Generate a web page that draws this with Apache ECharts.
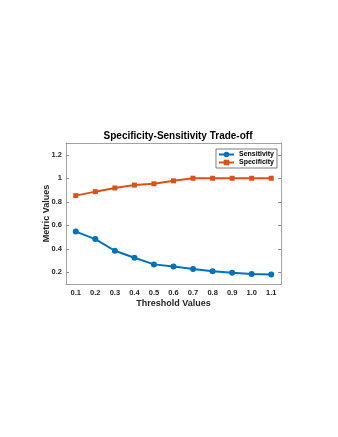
<!DOCTYPE html>
<html>
<head>
<meta charset="utf-8">
<script src="https://cdn.jsdelivr.net/npm/echarts@6/dist/echarts.min.js"></script>
<style>
  html, body { margin: 0; padding: 0; background: #fff; }
  #main { width: 338px; height: 437px; }
</style>
</head>
<body>
<div id="main"></div>
<script>
var thresholds = ['0.1', '0.2', '0.3', '0.4', '0.5', '0.6', '0.7', '0.8', '0.9', '1.0', '1.1'];
var sensitivity = [0.546, 0.482, 0.383, 0.323, 0.267, 0.248, 0.228, 0.209, 0.195, 0.186, 0.180];
var specificity = [0.852, 0.886, 0.917, 0.942, 0.953, 0.978, 1.0, 1.0, 1.0, 1.0, 1.0];
var yTicks = [0.2, 0.4, 0.6, 0.8, 1.0, 1.2];

var chartDom = document.getElementById('main');
var myChart = echarts.init(chartDom, null, { renderer: 'canvas' });
var font = 'Liberation Sans, Arial, sans-serif';
var axisCol = '#262626';
var lineCol = '#8c8c8c';

var option = {
  backgroundColor: '#fff',
  animation: false,
  title: {
    text: 'Specificity-Sensitivity Trade-off',
    left: 173, top: 126, textAlign: 'center',
    textStyle: { fontFamily: font, fontSize: 10, fontWeight: 'bold', color: '#000' }
  },
  legend: {
    right: 61, top: 149, orient: 'vertical',
    backgroundColor: '#fff', borderColor: '#262626', borderWidth: 0.6, borderRadius: 0,
    padding: [2, 3, 2, 2], itemGap: 1, itemWidth: 15, itemHeight: 7,
    textStyle: { fontFamily: font, fontSize: 7, color: '#000', fontWeight: 'bold' },
    data: ['Sensitivity', 'Specificity']
  },
  grid: { left: 66, right: 57, top: 143, bottom: 153, containLabel: false },
  xAxis: [{
    type: 'category', data: thresholds, boundaryGap: true,
    name: 'Threshold Values', nameLocation: 'middle', nameGap: 15,
    nameTextStyle: { fontFamily: font, fontSize: 9, fontWeight: 'bold', color: axisCol },
    axisLine: { lineStyle: { color: lineCol, width: 0.8 } },
    axisTick: { inside: true, length: 3, alignWithLabel: true, lineStyle: { color: lineCol } },
    axisLabel: { fontFamily: font, fontSize: 7.5, fontWeight: 'bold', color: axisCol, margin: 5 },
    splitLine: { show: false }
  }, {
    type: 'category', data: thresholds, boundaryGap: true, position: 'top',
    axisLine: { lineStyle: { color: lineCol, width: 0.8 } },
    axisTick: { inside: true, length: 3, alignWithLabel: true, lineStyle: { color: lineCol } },
    axisLabel: { show: false }, splitLine: { show: false }
  }],
  yAxis: [{
    type: 'value', min: 0.1, max: 1.3,
    name: 'Metric Values', nameLocation: 'middle', nameGap: 15, nameMoveOverlap: false,
    nameTextStyle: { fontFamily: font, fontSize: 9, fontWeight: 'bold', color: axisCol },
    axisLine: { show: true, lineStyle: { color: lineCol, width: 0.8 } },
    axisTick: { show: true, inside: true, length: 3, customValues: yTicks, lineStyle: { color: lineCol } },
    axisLabel: {
      fontFamily: font, fontSize: 7.5, fontWeight: 'bold', color: axisCol, margin: 4,
      customValues: yTicks,
      formatter: function (v) { return String(Math.round(v * 10) / 10); }
    },
    splitLine: { show: false }
  }, {
    type: 'value', min: 0.1, max: 1.3, position: 'right',
    axisLine: { show: true, lineStyle: { color: lineCol, width: 0.8 } },
    axisTick: { show: true, inside: true, length: 3, customValues: yTicks, lineStyle: { color: lineCol } },
    axisLabel: { show: false }, splitLine: { show: false }
  }],
  series: [{
    name: 'Sensitivity', type: 'line', data: sensitivity,
    symbol: 'circle', symbolSize: 6, showSymbol: true,
    itemStyle: { color: '#0072BD' },
    lineStyle: { color: '#0072BD', width: 2 }
  }, {
    name: 'Specificity', type: 'line', data: specificity,
    symbol: 'rect', symbolSize: 5, showSymbol: true,
    itemStyle: { color: '#D95319' },
    lineStyle: { color: '#D95319', width: 2 }
  }]
};
option && myChart.setOption(option);
</script>
</body>
</html>
